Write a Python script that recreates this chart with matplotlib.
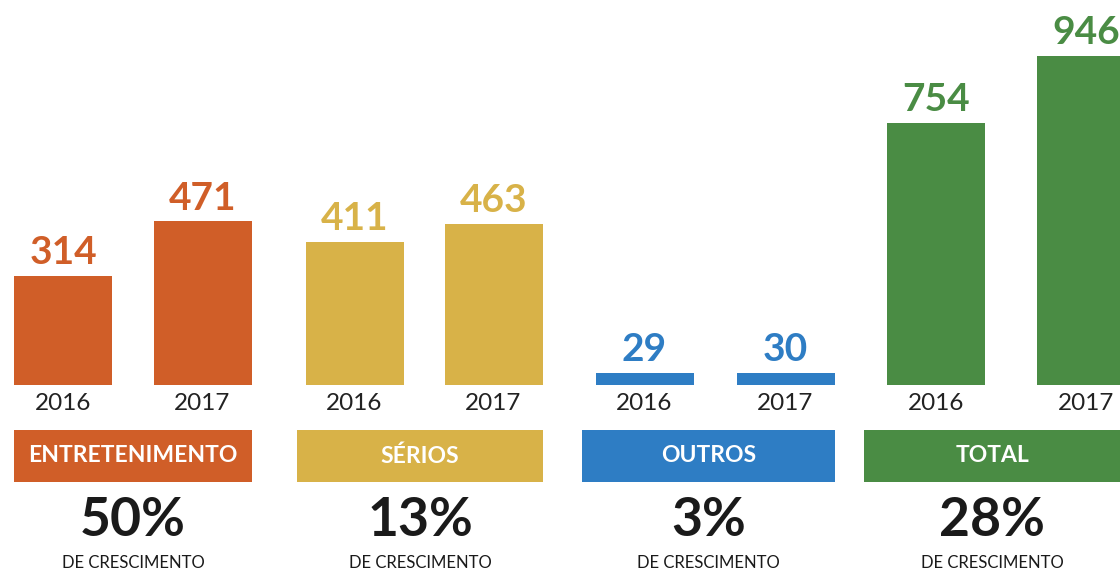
import matplotlib
matplotlib.use("Agg")
import matplotlib.pyplot as plt
from matplotlib.patches import Rectangle

# ---- data ----
categories = ["ENTRETENIMENTO", "SÉRIOS", "OUTROS", "TOTAL"]
years = ["2016", "2017"]
values_2016 = [314, 411, 29, 754]
values_2017 = [471, 463, 30, 946]
growth = ["50%", "13%", "3%", "28%"]
subtitle = "DE CRESCIMENTO"

# ---- style / layout ----
colors = ["#D05E28", "#D8B248", "#2E7DC4", "#4A8C44"]
W, H = 1120, 573
bar_centers_2016 = [63, 354.5, 644.5, 936]
bar_centers_2017 = [202.5, 493.5, 785.5, 1086]
bar_width = 98
box_ranges = [(14, 252), (297, 543), (582, 835), (864, 1120)]
base_px = 385
px_per_unit = 0.3478

plt.rcParams['font.family'] = ['Lato', 'DejaVu Sans']

fig = plt.figure(figsize=(W / 100, H / 100), dpi=100)
fig.patch.set_facecolor("white")

ax = fig.add_axes([0, (H - base_px) / H, 1, base_px / H])
ax.set_xlim(0, W)
ax.set_ylim(0, base_px / px_per_unit)
ax.axis("off")

min_h = 12 / px_per_unit
for i in range(len(categories)):
    for xc, v in ((bar_centers_2016[i], values_2016[i]), (bar_centers_2017[i], values_2017[i])):
        h = max(v, min_h)
        ax.bar(xc, h, width=bar_width, color=colors[i], linewidth=0)
        ax.annotate(str(v), (xc, h), xytext=(0, 4), textcoords="offset points",
                    ha="center", va="bottom", fontsize=28, fontweight="bold",
                    color=colors[i], annotation_clip=False)

def fy(ypx):
    return 1 - ypx / H

for i in range(len(categories)):
    fig.text(bar_centers_2016[i] / W, fy(403), years[0], ha="center", va="center",
             fontsize=17.5, color="#222222")
    fig.text(bar_centers_2017[i] / W, fy(403), years[1], ha="center", va="center",
             fontsize=17.5, color="#222222")
    x0, x1 = box_ranges[i]
    fig.add_artist(Rectangle((x0 / W, fy(482)), (x1 - x0) / W, 52 / H,
                             transform=fig.transFigure, facecolor=colors[i],
                             edgecolor="none"))
    xc = (x0 + x1) / 2 / W
    fig.text(xc, fy(456), categories[i], ha="center", va="center",
             fontsize=16.5, fontweight="bold", color="white")
    fig.text(xc, fy(521), growth[i], ha="center", va="center",
             fontsize=38.5, fontweight="bold", color="#1a1a1a")
    fig.text(xc, fy(563), subtitle, ha="center", va="center",
             fontsize=12, color="#1a1a1a")

fig.savefig("out.png", dpi=100, facecolor="white")
